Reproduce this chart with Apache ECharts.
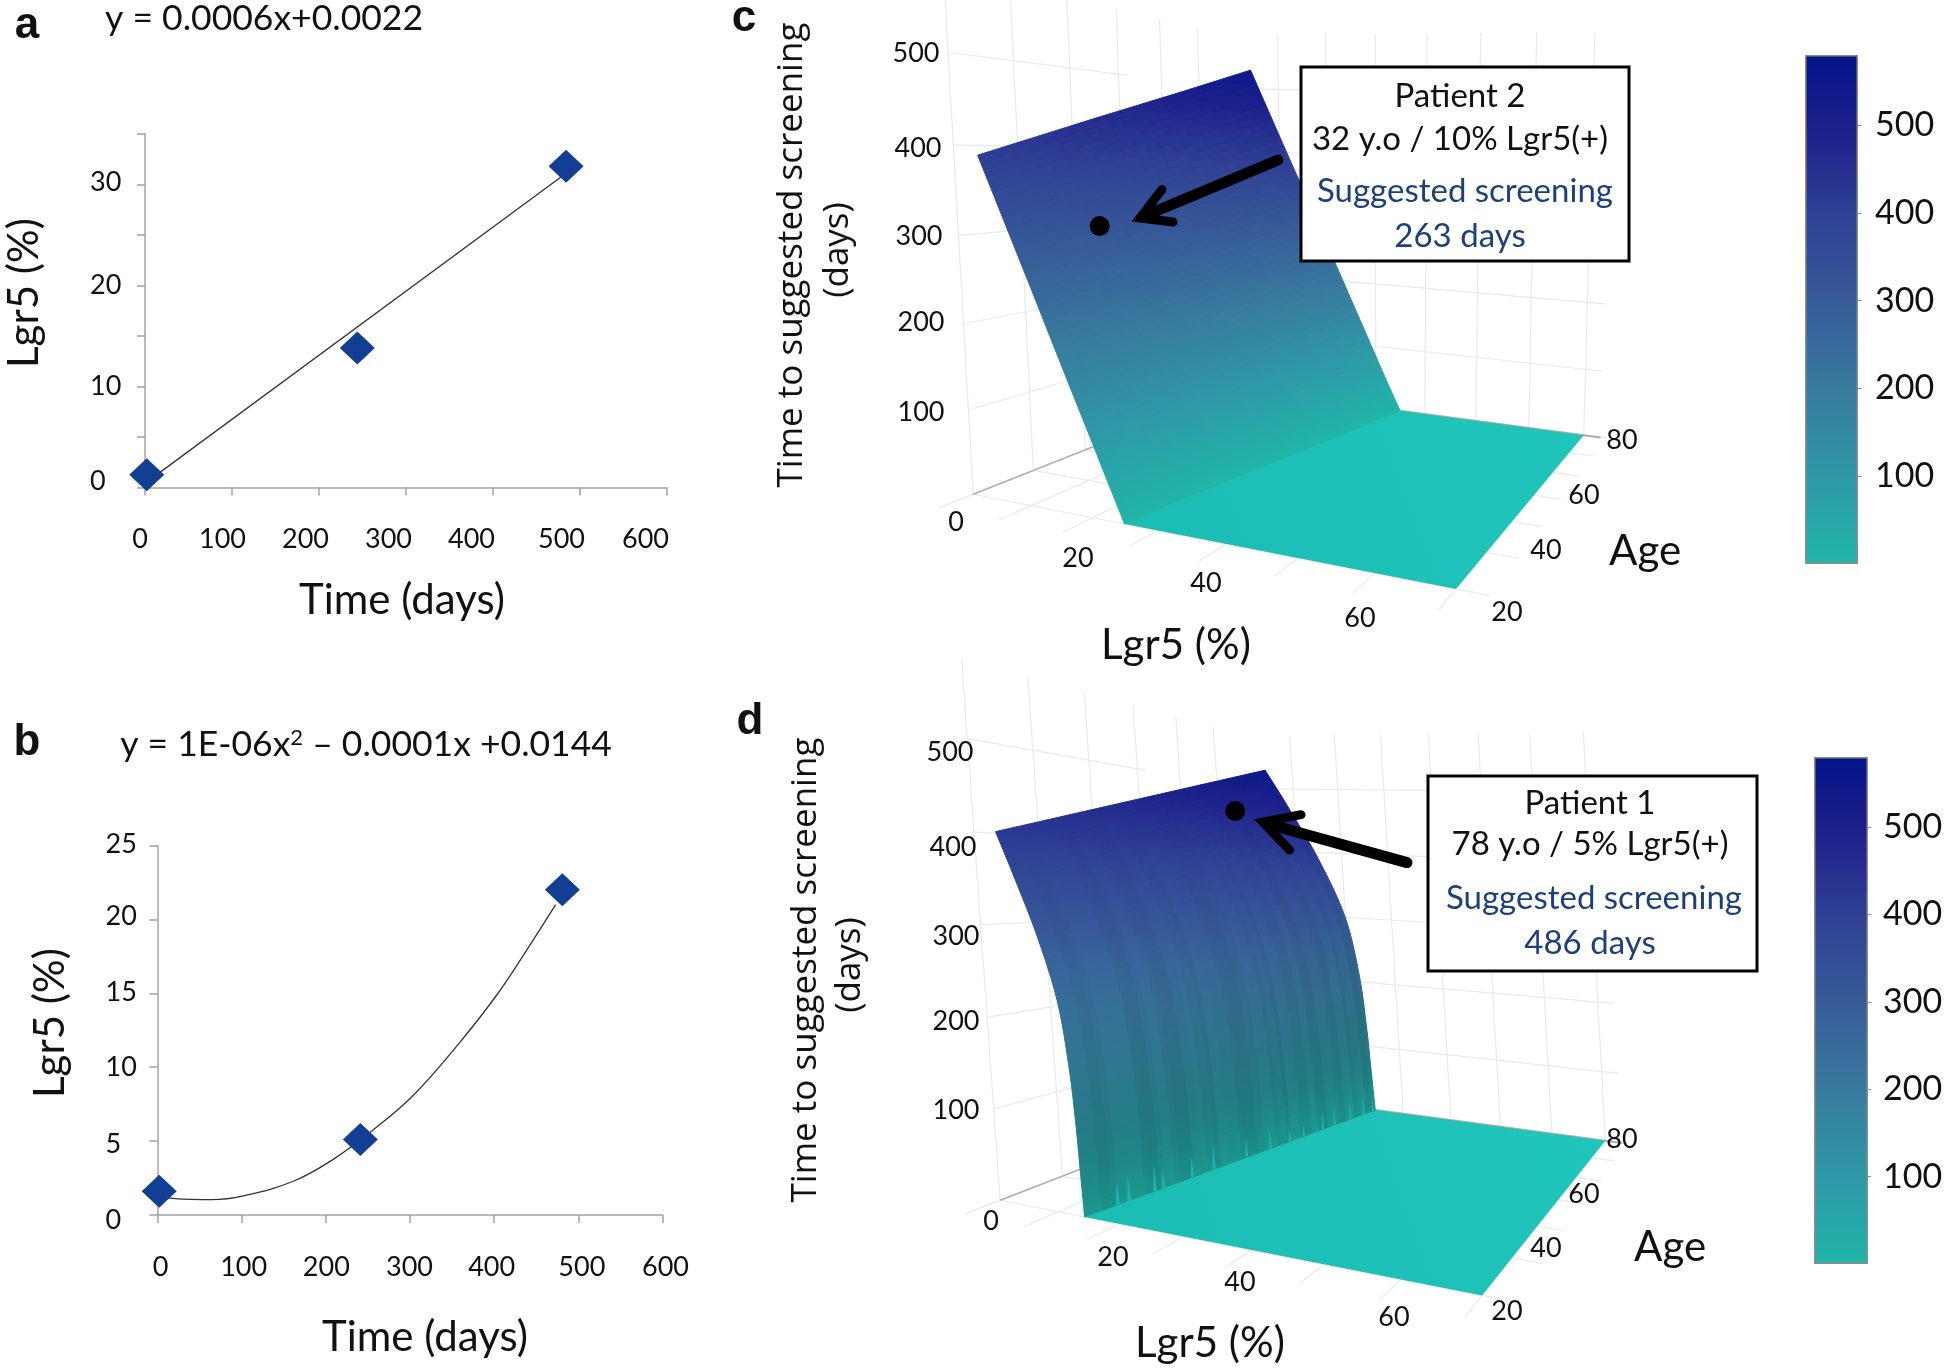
<!DOCTYPE html>
<html><head><meta charset="utf-8">
<style>html,body{margin:0;padding:0;background:#fff}#c{width:1950px;height:1371px}</style>
<script src="https://cdn.jsdelivr.net/npm/echarts@6/dist/echarts.min.js"></script>
</head><body><div id="c"></div>
<script>
// ---------- values ----------
const timeTicks = ['0','100','200','300','400','500','600'];
const lgrTicksA = ['0','','10','','20','','30',''];
const lgrTicksB = ['0','5','10','15','20','25'];
const pointsA = [[2,1.25],[244,13.8],[484,31.8]];
const trendA  = [[0,0.4],[484,31.1]];
const pointsB = [[2,1.6],[241,5.1],[481,22.0]];
const trendB  = [[2,1.25],[31,1.07],[64,1.04],[102,1.30],[162,2.3],[211,3.85],[255,5.7],[304,8.1],[358,11.6],[402,14.8],[435,17.6],[473,21.0]];
const scaleValues = [0,100,200,300,400,500,580];
const scaleColors = ['#20b5a9','#2f98a7','#387a9e','#375b98','#2f4094','#1b1f8a','#04148a'];
const agesSurface = [20,40,60,80];
const lgr5C = [
  [4,8,12,16,20,23,25],
  [4,8.6,13.2,17.9,22.5,26,28.3],
  [4,9.3,14.5,19.8,25,29.1,31.7],
  [4,9.9,15.8,21.7,27.6,32,35]];
const timeC = [
  [390,316,242,167,93,37,0],
  [437,354,271,187,104,42,0],
  [483,391,299,207,115,46,0],
  [530,429,329,227,126,50,0]];
const lgr5D = [
  [3.8,6.5,9.7,12.3,13.5,14,14.2,14.4],
  [3.8,7.3,11.5,14.8,16.4,17.1,17.3,17.6],
  [3.8,8.1,13.3,17.4,19.4,20.2,20.5,20.8],
  [3.8,8.95,15.05,20,22.3,23.2,23.6,24]];
const timeD = [
  [401,353,292,226,158,97,49,0],
  [444,391,323,250,175,107,54,0],
  [487,429,355,274,192,118,59,0],
  [530,467,386,299,209,128,65,0]];
const shadeD = [1,1,1,0.97,0.88,0.8,0.78,0.82];
const streakD = [1.02,1.02,0.98,1.0,1.03,1.03,1.03,0.98,0.97,1.01,1.03,0.99,0.97,0.97,1.02,1.03,1.0,0.98,1.03,1.02,1.02,0.98,0.97,0.97,1.0,1.03,1.03,0.99,1.01,0.97,1.03,1.02,0.99,0.99,1.03,0.98,0.97,1.02,1.02,1.0,0.98,1.03,1.03,0.98,1.01,1.03,0.97,1.0];
const spikeAgesD = [24.8,26.5,30.6,32,37,41,47.5,52.6,57,60.4,65.2,68.3,72.7,76.5,79.3];
const spikeTimeD = [25,28,30,20,25,30,25,25,18,16,25,25,25,25,22];
const patientC = [10.4,33.5,308];
const patientD = [7.1,65.5,455];
const depthTicks = [100,200,300,400,500];

// ---------- layout and calibration ----------
const W=25;
const calibC = [[25,20,0,1123.5,518,W],[70,20,0,1460.4,594,W],[70,80,0,1581,434.5,W],[35,80,0,1403,412,W],[4,20,390,978,159,W],[4,80,530,1251,68,W],
  [0,20,0,971,491,W],[0,80,0,1239,392,W],[73,80,100,1599,368,5],[73,80,200,1601,299,5],
  [0,20,100,967,409,5],[0,20,300,957,238.5,5],[0,20,500,947,56,5]];
const calibD = [[14.4,20,0,1084.6,1210,W],[70,20,0,1487.6,1301,W],[70,80,0,1599.5,1139.5,W],[24,80,0,1378.5,1110.8,W],[3.8,20,401,997.3,836,W],[3.8,80,530,1263.7,767.6,W],
  [0,20,0,994,1196,W],[0,80,0,1272,1100,W],[73,80,100,1618,1070,5],[73,80,200,1620,999.5,5],
  [0,20,100,991,1111,5],[0,20,300,982,931,5],[0,20,500,968,740.6,5]];

function fitCamera(rows){
  const n=11,A=[...Array(n)].map(()=>Array(n+1).fill(0));
  const add=(r,b,w)=>{for(let i=0;i<n;i++){for(let j=0;j<n;j++)A[i][j]+=w*r[i]*r[j];A[i][n]+=w*r[i]*b;}};
  rows.forEach(([X,Y,Z,u,v,w])=>{X/=70;Y/=80;Z/=500;
    add([X,Y,Z,1,0,0,0,0,-u*X/1000,-u*Y/1000,-u*Z/1000],u/1000,w);
    add([0,0,0,0,X,Y,Z,1,-v*X/1000,-v*Y/1000,-v*Z/1000],v/1000,w);});
  for(let i=0;i<n;i++){let p=i;for(let k=i+1;k<n;k++)if(Math.abs(A[k][i])>Math.abs(A[p][i]))p=k;[A[i],A[p]]=[A[p],A[i]];
    for(let k=0;k<n;k++){if(k===i)continue;const f=A[k][i]/A[i][i];for(let j=i;j<=n;j++)A[k][j]-=f*A[i][j];}}
  const c=A.map((r,i)=>r[n]/r[i]);
  return (L,age,T)=>{const X=L/70,Y=age/80,Z=T/500,d=c[8]*X+c[9]*Y+c[10]*Z+1;
    return [1000*(c[0]*X+c[1]*Y+c[2]*Z+c[3])/d,1000*(c[4]*X+c[5]*Y+c[6]*Z+c[7])/d];};
}
const hex=h=>[1,3,5].map(i=>parseInt(h.substr(i,2),16));
function scaleColor(T,shade=1){
  let i=0;while(i<scaleValues.length-2&&T>scaleValues[i+1])i++;
  const f=Math.min(1,Math.max(0,(T-scaleValues[i])/(scaleValues[i+1]-scaleValues[i])));
  const a=hex(scaleColors[i]),b=hex(scaleColors[i+1]);
  const c=a.map((x,k)=>Math.min(255,Math.round((x+(b[k]-x)*f)*shade)));
  return `rgb(${c[0]},${c[1]},${c[2]})`;
}
// Catmull-Rom drawing of a table row between the values that were read
const lerpRow=(row,r)=>{const n=row.length,i=Math.min(n-2,Math.floor(r)),t=r-i;
  const p0=row[Math.max(0,i-1)],p1=row[i],p2=row[i+1],p3=row[Math.min(n-1,i+2)];
  return 0.5*(2*p1+(p2-p0)*t+(2*p0-5*p1+4*p2-p3)*t*t+(3*p1-p0-3*p2+p3)*t*t*t);};
function surfaceAt(lgr,table,r,age){
  const g=(age-20)/20,i=Math.min(agesSurface.length-2,Math.floor(g)),f=g-i;
  const mix=t=>lerpRow(t[i],r)*(1-f)+lerpRow(t[i+1],r)*f;
  return [mix(lgr),Math.max(0,mix(table))];
}
function panel3D(cfg){
  const project=fitCamera(cfg.calib);
  const maxR=cfg.lgr[0].length-1;
  const baseAt=a=>surfaceAt(cfg.lgr,cfg.table,maxR,a)[0];
  return {type:'custom',xAxisIndex:cfg.axis,yAxisIndex:cfg.axis,coordinateSystem:'cartesian2d',clip:false,silent:true,animation:false,z:3,data:[[0,0]],
    renderItem(params,api){
      const pt=(L,a,T)=>api.coord(project(L,a,T));
      const kids=[];
      const line=(p,q,col,w=1.2)=>kids.push({type:'polyline',shape:{points:[p,q]},style:{stroke:col,lineWidth:w,fill:null},silent:true});
      const grid='#e9e9e9',edge='#aeaeae';
      depthTicks.forEach(T=>{line(pt(0,20,T),pt(0,T===500?52:80,T),grid);line(pt(0,80,T),pt(73,80,T),grid);});
      for(let a=20;a<=70;a+=10)line(pt(0,a,0),pt(0,a,cfg.zTop),grid);
      for(let L=10;L<=70;L+=10)line(pt(L,80,0),pt(L,80,cfg.zTop),grid);
      for(let L=0;L<=70;L+=10)line(pt(L,15,0),pt(L,80,0),grid);
      for(let a=20;a<=80;a+=10)line(pt(0,a,0),pt(74,a,0),grid);
      line(pt(0,20,0),pt(0,80,0),edge,1.5);line(pt(0,80,0),pt(73,80,0),edge,2);
      kids.push({type:'polygon',shape:{points:[pt(baseAt(20),20,0),pt(70,20,0),pt(70,80,0),pt(baseAt(80),80,0)]},
        style:{fill:new echarts.graphic.LinearGradient(0,1,1,0,[{offset:0,color:'#1bbcb3'},{offset:1,color:'#20c5bb'}])},silent:true});
      const nr=cfg.rows,na=cfg.cols;
      for(let j=0;j<na;j++){
        const a0=20+60*j/na,a1=20+60*(j+1)/na;
        for(let i=0;i<nr;i++){
          const r0=maxR*i/nr,r1=maxR*(i+1)/nr,rm=(r0+r1)/2;
          const p00=surfaceAt(cfg.lgr,cfg.table,r0,a0),p01=surfaceAt(cfg.lgr,cfg.table,r0,a1),p10=surfaceAt(cfg.lgr,cfg.table,r1,a0),p11=surfaceAt(cfg.lgr,cfg.table,r1,a1);
          const T=(p00[1]+p01[1]+p10[1]+p11[1])/4;
          let sh=cfg.shade?lerpRow(cfg.shade,rm):1;
          if(cfg.streak){const s=cfg.streak[Math.floor(j/na*cfg.streak.length)];sh*=1+(s-1)*Math.min(1,rm/4);}
          const col=scaleColor(T*1.05,sh);
          kids.push({type:'polygon',shape:{points:[pt(p00[0],a0,p00[1]),pt(p01[0],a1,p01[1]),pt(p11[0],a1,p11[1]),pt(p10[0],a0,p10[1])]},
            style:{fill:col,stroke:col,lineWidth:1},silent:true});
        }
      }
      (cfg.spikes||[]).forEach((a,i)=>kids.push({type:'polygon',shape:{points:[pt(baseAt(a-0.3),a-0.3,0),pt(baseAt(a+0.3),a+0.3,0),pt(baseAt(a),a,cfg.spikeT[i])]},style:{fill:'#1fb5ad'},silent:true}));
      const d=pt(cfg.patient[0],cfg.patient[1],cfg.patient[2]);
      kids.push({type:'circle',shape:{cx:d[0],cy:d[1],r:10},style:{fill:'#000'},silent:true});
      return {type:'group',children:kids};
    }};
}
const AXIS='#a3a3a3',BODY='Lato',TICKSZ=27;
function shiftedLabels(texts,shifts,vertical){
  const rich={},base={fontFamily:BODY,fontSize:TICKSZ,color:'#111'};
  texts.forEach((t,i)=>{const s=Math.round(2*Math.abs(shifts[i]||0));
    rich['k'+i]=Object.assign({},base,{padding:vertical?(shifts[i]<0?[0,0,s,0]:[s,0,0,0]):(shifts[i]<0?[0,s,0,0]:[0,0,0,s])});});
  return {rich,formatter:(v,idx)=>texts[idx]?`{k${idx}|${texts[idx]}}`:''};
}
function cartesian(i,box,xShift,yTexts,yShift,yMax,yInt,yMargin){
  return {
    grid:{left:box[0],top:box[1],width:box[2],height:box[3],containLabel:false},
    x:{type:'value',gridIndex:i,min:0,max:600,interval:100,splitLine:{show:false},
       axisLine:{onZero:false,lineStyle:{color:AXIS,width:1.5}},axisTick:{inside:false,length:8,lineStyle:{color:AXIS,width:1.5}},
       axisLabel:Object.assign({margin:box[4],verticalAlign:'middle',align:'center',showMinLabel:true,showMaxLabel:true,hideOverlap:false},shiftedLabels(timeTicks,xShift,false))},
    y:{type:'value',gridIndex:i,min:0,max:yMax,interval:yInt,splitLine:{show:false},
       axisLine:{onZero:false,lineStyle:{color:AXIS,width:1.5}},axisTick:{length:8,lineStyle:{color:AXIS,width:1.5}},
       axisLabel:Object.assign({margin:yMargin,align:'left',verticalAlign:'middle',showMinLabel:true,showMaxLabel:true,hideOverlap:false},shiftedLabels(yTexts,yShift,true))}
  };
}
const ca=cartesian(0,[145,133.8,522,353.6,52],[-5,-9.6,-13.3,-17.4,-21.6,-18.4,-21.6],lgrTicksA,[-6.4,0,0,0,0,0,-2.5,0],35,5,55);
const cb=cartesian(1,[157.5,845.5,505,369.5,52],[3.2,1.8,0.5,-0.5,-2.3,3.7,3.2],lgrTicksB,[5,3,0,-1,-3.5,-1.5],25,5,52);
const gradient=()=>new echarts.graphic.LinearGradient(0,1,0,0,scaleValues.map((v,i)=>({offset:v/580,color:scaleColors[i]})));
function colorbar(i,box,margin){
  return {grid:{left:box[0],top:box[1],width:box[2],height:box[3]},
    x:{type:'category',gridIndex:i,data:[''],show:false},
    y:{type:'value',gridIndex:i,position:'right',min:0,max:580,splitLine:{show:false},axisLine:{show:false},
       axisTick:{show:true,length:3,lineStyle:{color:'#888'},customValues:depthTicks},
       axisLabel:{margin,fontFamily:BODY,fontSize:34,color:'#111',customValues:depthTicks,hideOverlap:false}},
    s:{type:'bar',xAxisIndex:i,yAxisIndex:i,data:[580],barWidth:'100%',silent:true,animation:false,itemStyle:{color:gradient(),borderColor:'#8c8c8c',borderWidth:1.5}}};
}
const cbC=colorbar(2,[1805,55,53,509],17),cbD=colorbar(3,[1814,757,54,507],15);
const fullGrid={left:0,top:0,width:1950,height:1371};
const hiddenX=i=>({type:'value',gridIndex:i,min:0,max:1950,show:false});
const hiddenY=i=>({type:'value',gridIndex:i,min:0,max:1371,inverse:true,show:false});

const tx=(text,x,y,font,opt={})=>({type:'text',x,y,rotation:opt.rot?Math.PI/2:0,z:opt.z||100,silent:true,
  style:Object.assign({text,font,fill:opt.fill||'#111',align:'center',verticalAlign:'middle'},opt.style||{})});
const TITLE=`42px ${BODY}`,EQ=`35.5px ${BODY}`,OPEN='35px "Open Sans"',LET='bold 44px "Liberation Sans"',TICK=`${TICKSZ}px ${BODY}`,BOX=`33px ${BODY}`,NAVY='#1c3f7e';
const tickLabels3D=[
 ['500',916,53.5],['400',918,148],['300',919,236],['200',921,322],['100',921,412],['0',956,522],
 ['20',1078,558],['40',1206,583],['60',1360,618],['80',1622,440],['60',1584,495],['40',1546,550],['20',1507,612],
 ['500',950,752],['400',953,847],['300',956,936],['200',956,1021],['100',956,1110.5],['0',991,1221],
 ['20',1113,1257],['40',1240,1282],['60',1394,1317],['80',1622,1139],['60',1584,1194],['40',1546,1248.5],['20',1507,1311]];
const infoBox=(x,y,w,h)=>({type:'rect',shape:{x,y,width:w,height:h},z:100,silent:true,style:{fill:'#fff',stroke:'#000',lineWidth:3}});
const arrow=(pts,w)=>({type:'polyline',shape:{points:pts},z:99,silent:true,style:{stroke:'#000',lineWidth:w,fill:null,lineCap:'round'}});
const graphics=[
 tx('a',27,26,LET),tx('b',27,743,LET),tx('c',744,19,LET),tx('d',750,722,LET),
 tx('y = 0.0006x+0.0022',264,19,EQ),
 {type:'text',x:366,y:745,z:100,silent:true,style:{text:'{m|y = 1E-06x}{s|2}{m| \u2013 0.0001x +0.0144}',align:'center',verticalAlign:'middle',fill:'#111',rich:{m:{font:EQ,fill:'#111'},s:{font:`22px ${BODY}`,fill:'#111',padding:[0,0,14,0]}}}},
 tx('Lgr5 (%)',24,293,TITLE,{rot:1}),tx('Time (days)',402,600,TITLE),
 tx('Lgr5 (%)',50,1023,TITLE,{rot:1}),tx('Time (days)',425,1337,TITLE),
 tx('Time to suggested screening',792,255,OPEN,{rot:1}),tx('(days)',838,250,OPEN,{rot:1}),
 tx('Time to suggested screening',806,970,OPEN,{rot:1}),tx('(days)',850,965,OPEN,{rot:1}),
 tx('Lgr5 (%)',1176,645,TITLE),tx('Age',1645,551,TITLE),tx('Lgr5 (%)',1210,1343,TITLE),tx('Age',1670,1247,TITLE),
 ...tickLabels3D.map(l=>tx(l[0],l[1],l[2],TICK)),
 arrow([[1278,160],[1142,217]],11),arrow([[1162,189.5],[1140,218],[1173,222]],9),
 arrow([[1407,862.6],[1268,824]],11),arrow([[1301,814.7],[1263,822],[1289.5,850]],9),
 infoBox(1301,67,328,194),infoBox(1428,776,329,195),
 tx('Patient 2',1460,96,BOX,{z:101}),tx('32 y.o / 10% Lgr5(+)',1460,139,BOX,{z:101}),tx('Suggested screening',1465,191,BOX,{z:101,fill:NAVY}),tx('263 days',1460,236,BOX,{z:101,fill:NAVY}),
 tx('Patient 1',1590,803,BOX,{z:101}),tx('78 y.o / 5% Lgr5(+)',1590,844,BOX,{z:101}),tx('Suggested screening',1594,898,BOX,{z:101,fill:NAVY}),tx('486 days',1590,943,BOX,{z:101,fill:NAVY})
];
const chart=echarts.init(document.getElementById('c'),null,{renderer:'canvas'});
const mark=d=>({type:'scatter',symbol:'diamond',symbolSize:[35,33],data:d,itemStyle:{color:'#123f94',opacity:1},z:5,silent:true,animation:false});
chart.setOption({
  animation:false,backgroundColor:'#fff',textStyle:{fontFamily:BODY},
  grid:[ca.grid,cb.grid,cbC.grid,cbD.grid,fullGrid,fullGrid],
  xAxis:[ca.x,cb.x,cbC.x,cbD.x,hiddenX(4),hiddenX(5)],
  yAxis:[ca.y,cb.y,cbC.y,cbD.y,hiddenY(4),hiddenY(5)],
  series:[
    {type:'line',xAxisIndex:0,yAxisIndex:0,data:trendA,symbol:'none',lineStyle:{color:'#333',width:1.3},z:3,animation:false,silent:true},
    Object.assign(mark(pointsA),{xAxisIndex:0,yAxisIndex:0}),
    {type:'line',xAxisIndex:1,yAxisIndex:1,data:trendB,smooth:0.4,symbol:'none',lineStyle:{color:'#333',width:1.3},z:3,animation:false,silent:true},
    Object.assign(mark(pointsB),{xAxisIndex:1,yAxisIndex:1}),
    cbC.s,cbD.s,
    panel3D({axis:4,calib:calibC,lgr:lgr5C,table:timeC,patient:patientC,zTop:585,rows:60,cols:24}),
    panel3D({axis:5,calib:calibD,lgr:lgr5D,table:timeD,patient:patientD,zTop:585,rows:70,cols:72,shade:shadeD,streak:streakD,spikes:spikeAgesD,spikeT:spikeTimeD})
  ],
  graphic:{elements:graphics}
});
</script></body></html>
